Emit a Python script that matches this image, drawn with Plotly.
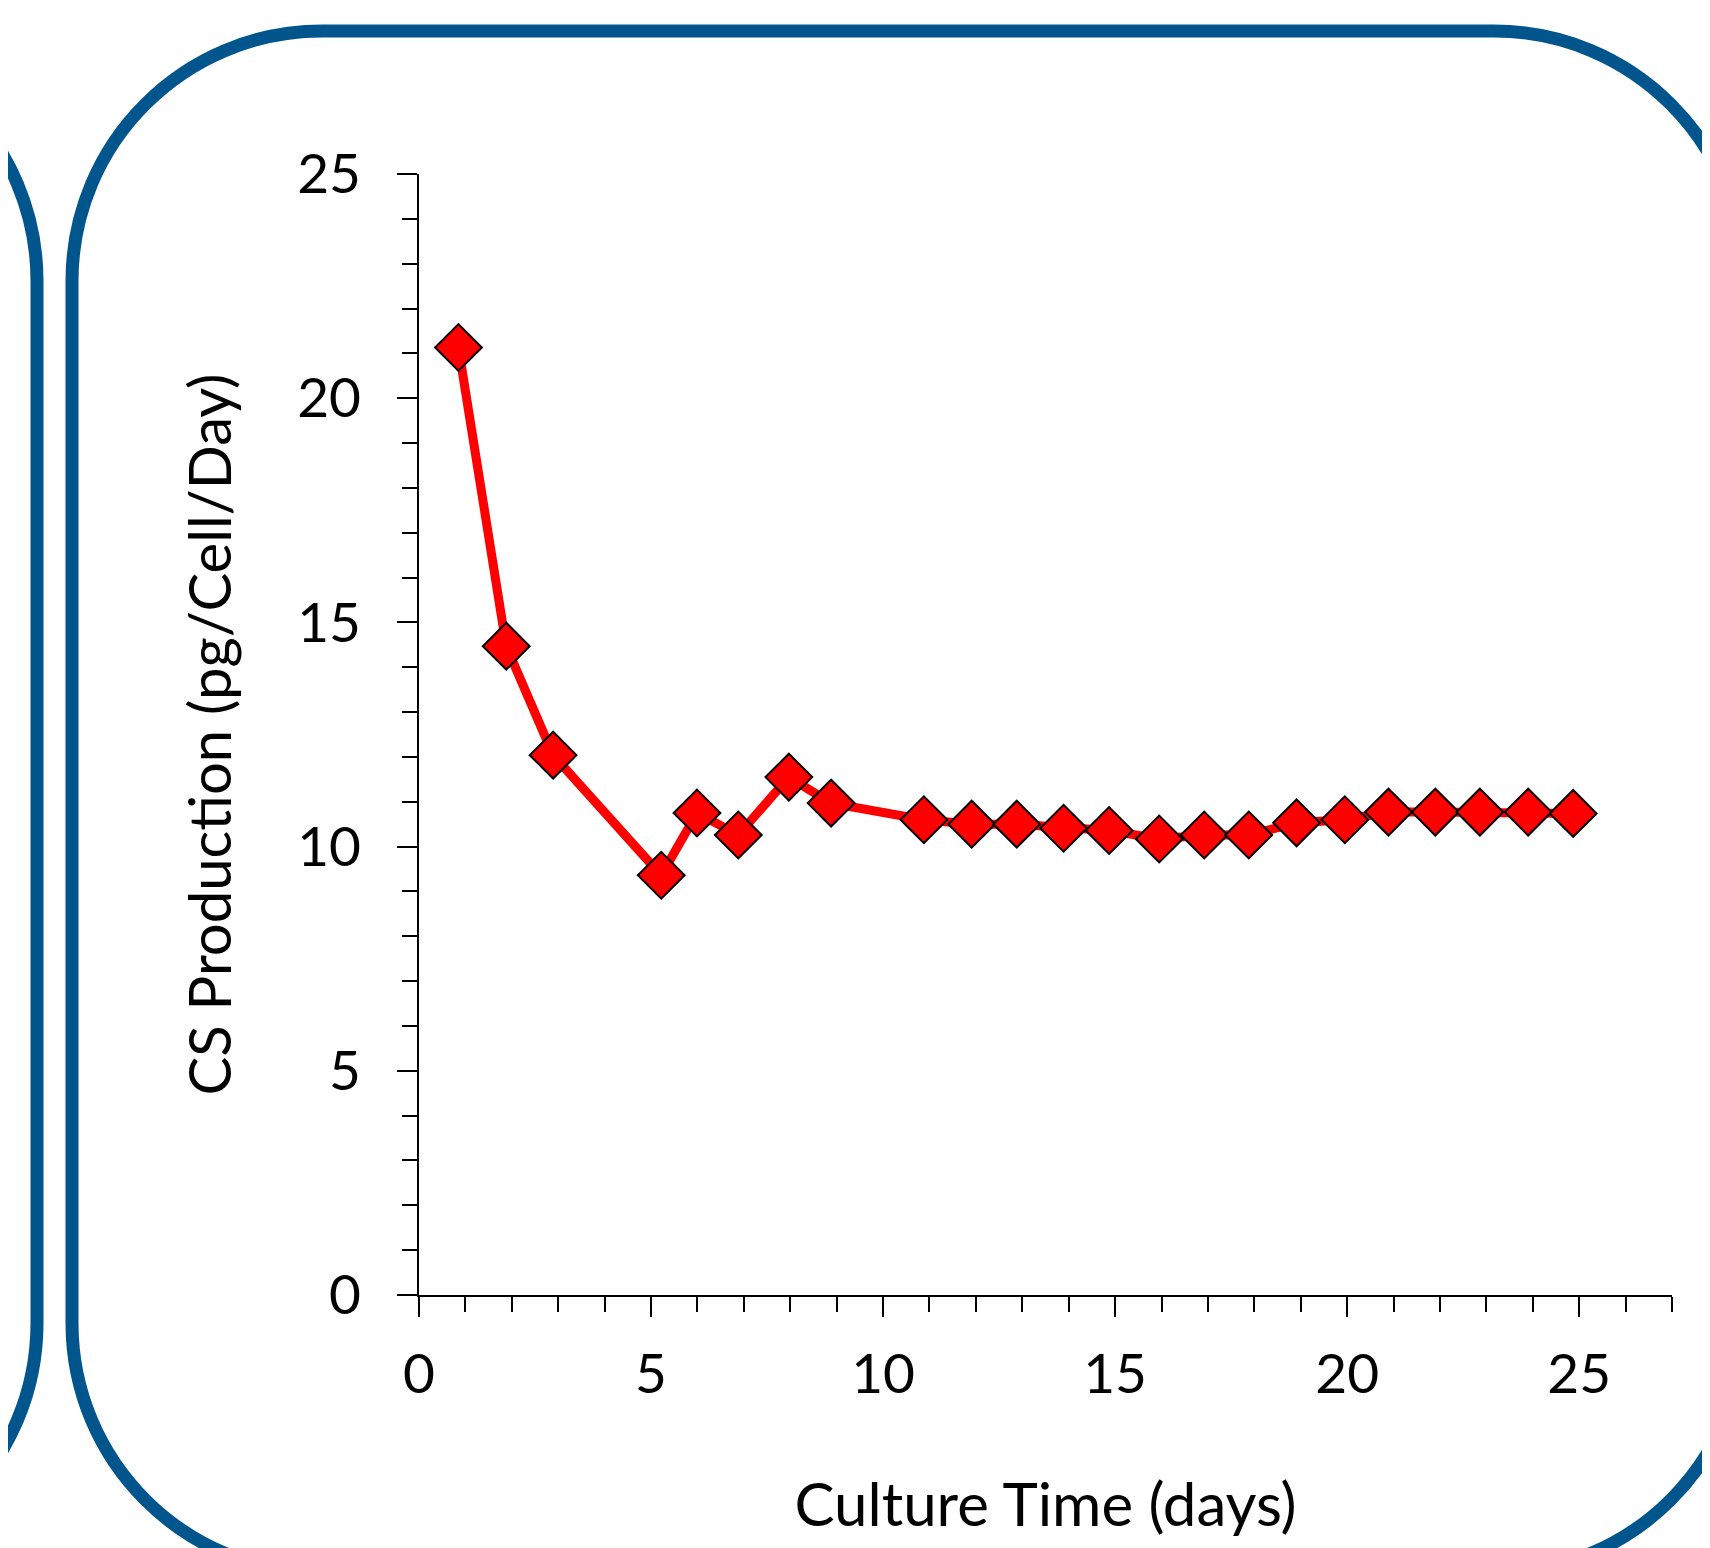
import plotly.graph_objects as go

# ---- data ----
culture_days = [0.85, 1.88, 2.89, 5.22, 5.99, 6.88, 7.97, 8.88, 10.88, 11.91, 12.88,
                13.89, 14.87, 15.95, 16.92, 17.88, 18.91, 19.95, 20.89, 21.90, 22.86,
                23.90, 24.87]
cs_production = [21.13, 14.47, 12.04, 9.36, 10.75, 10.26, 11.55, 10.97, 10.60, 10.50,
                 10.50, 10.41, 10.36, 10.17, 10.26, 10.26, 10.53, 10.60, 10.77, 10.77,
                 10.77, 10.77, 10.74]
x_ticks = [0, 5, 10, 15, 20, 25]
y_ticks = [0, 5, 10, 15, 20, 25]

W, H = 1710, 1548
OFF = 8  # page body margin
L, R, T, B = 419 - OFF, 38 + OFF, 174 - OFF, 253 + OFF
PW, PH = W - L - R, H - T - B
FONT = "Lato"
BLUE = "#00558D"


def px2paper(px, py):
    px -= OFF
    py -= OFF
    return (px - L) / PW, (H - B - py) / PH


def rounded_rect_path(x0, y0, x1, y1, r):
    k = 0.5523 * r

    def P(x, y):
        a, b = px2paper(x, y)
        return f"{a:.5f},{b:.5f}"

    d = f"M {P(x0 + r, y0)} L {P(x1 - r, y0)} "
    d += f"C {P(x1 - r + k, y0)} {P(x1, y0 + r - k)} {P(x1, y0 + r)} "
    d += f"L {P(x1, y1 - r)} "
    d += f"C {P(x1, y1 - r + k)} {P(x1 - r + k, y1)} {P(x1 - r, y1)} "
    d += f"L {P(x0 + r, y1)} "
    d += f"C {P(x0 + r - k, y1)} {P(x0, y1 - r + k)} {P(x0, y1 - r)} "
    d += f"L {P(x0, y0 + r)} "
    d += f"C {P(x0, y0 + r - k)} {P(x0 + r - k, y0)} {P(x0 + r, y0)} Z"
    return d


fig = go.Figure()
fig.add_trace(go.Scatter(
    x=culture_days, y=cs_production, mode="lines+markers",
    line=dict(color="#FF0000", width=9),
    marker=dict(symbol="diamond", size=36, color="#FF0000",
                line=dict(color="black", width=2)),
    showlegend=False, cliponaxis=False,
))

shapes = [
    dict(type="path", xref="paper", yref="paper", layer="below",
         path=rounded_rect_path(72, 31, 1744, 1573, 250),
         line=dict(color=BLUE, width=13), fillcolor="rgba(0,0,0,0)"),
    dict(type="path", xref="paper", yref="paper", layer="below",
         path=rounded_rect_path(-600, 31, 37, 1573, 250),
         line=dict(color=BLUE, width=13), fillcolor="rgba(0,0,0,0)"),
]

fig.update_layout(
    width=W, height=H,
    margin=dict(l=L, r=R, t=T, b=B, pad=0),
    paper_bgcolor="white", plot_bgcolor="white",
    font=dict(family=FONT, size=55, color="black"),
    shapes=shapes,
    xaxis=dict(
        range=[0, 27], tickvals=x_ticks, showgrid=False, zeroline=False,
        showline=True, linecolor="black", linewidth=2,
        ticks="outside", ticklen=20, tickwidth=2, tickcolor="black",
        minor=dict(dtick=1, ticks="outside", ticklen=15, tickwidth=2, tickcolor="black", showgrid=False),
        tickfont=dict(family=FONT, size=55), ticklabelstandoff=10,
        title=dict(text="Culture Time (days)", font=dict(family=FONT, size=60), standoff=80),
    ),
    yaxis=dict(
        range=[0, 25], tickvals=y_ticks, showgrid=False, zeroline=False,
        showline=True, linecolor="black", linewidth=2,
        ticks="outside", ticklen=20, tickwidth=2, tickcolor="black",
        minor=dict(dtick=1, ticks="outside", ticklen=15, tickwidth=2, tickcolor="black", showgrid=False),
        tickfont=dict(family=FONT, size=55), ticklabelstandoff=25,
        title=dict(text="CS Production (pg/Cell/Day)", font=dict(family=FONT, size=58), standoff=47),
    ),
)

fig.write_html("out.html")
